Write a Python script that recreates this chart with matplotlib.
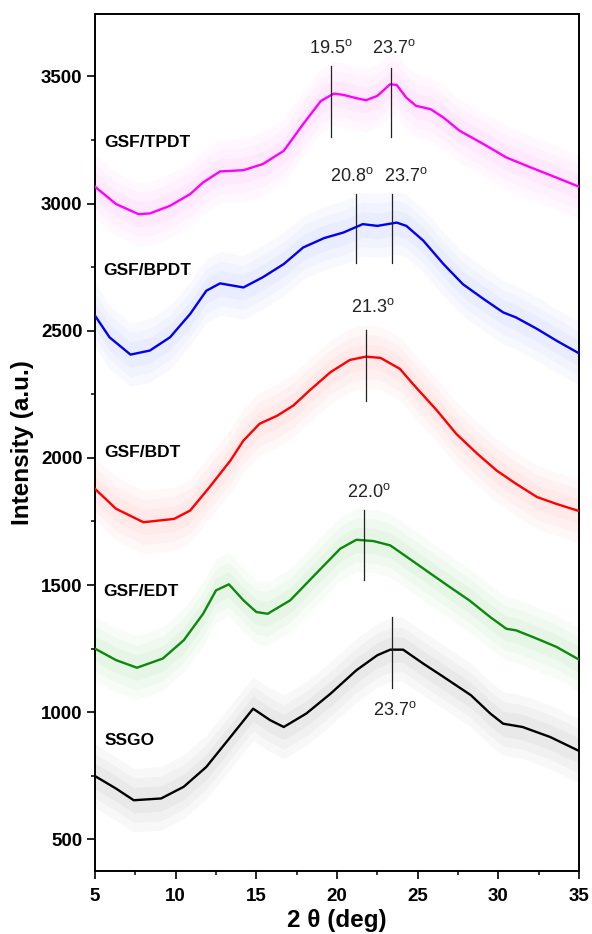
import matplotlib
matplotlib.use("Agg")
import matplotlib.pyplot as plt

plt.rcParams['font.family'] = ['Liberation Sans', 'DejaVu Sans']
plt.rcParams['mathtext.fontset'] = 'custom'
plt.rcParams['mathtext.rm'] = 'Liberation Sans'

# smoothed XRD traces (2theta in deg, intensity a.u.)
ssgo_x = [5, 6.3, 7.4, 9.1, 10.5, 11.9, 13.4, 14.8, 15.85, 16.7, 18.1, 19.6, 21.2, 22.5,
          23.3, 24.1, 25.35, 26.6, 28.3, 29.5, 30.3, 31.5, 33.2, 35]
ssgo_y = [749, 700, 654, 661, 707, 785, 903, 1014, 969, 942, 995, 1073, 1165, 1224,
          1246, 1246, 1191, 1139, 1067, 995, 955, 942, 903, 848]

edt_x = [5, 6.3, 7.6, 9.2, 10.5, 11.7, 12.5, 13.3, 14.2, 15.0, 15.7, 17.1, 18.7, 20.2,
         21.2, 22.25, 23.3, 24.5, 25.8, 27.0, 28.2, 29.5, 30.5, 31.1, 32.4, 33.6, 35]
edt_y = [1250, 1205, 1175, 1211, 1283, 1387, 1479, 1503, 1440, 1394, 1387, 1440, 1545, 1643,
         1678, 1673, 1656, 1603, 1545, 1492, 1440, 1374, 1328, 1322, 1289, 1257, 1207]

bdt_x = [5, 6.3, 8.0, 9.9, 10.9, 12.1, 13.4, 14.2, 15.2, 16.3, 17.3, 18.3, 19.6, 20.8,
         21.8, 22.7, 23.9, 24.7, 26.2, 27.4, 28.7, 29.9, 31.1, 32.4, 33.6, 35]
bdt_y = [1878, 1800, 1747, 1760, 1793, 1885, 1990, 2068, 2134, 2166, 2206, 2265, 2337, 2385,
         2398, 2393, 2350, 2291, 2186, 2094, 2016, 1950, 1898, 1846, 1819, 1791]

bpdt_x = [5, 5.9, 7.2, 8.4, 9.65, 10.9, 11.9, 12.75, 14.2, 15.4, 16.7, 17.9, 19.2, 20.4,
          21.6, 22.5, 23.7, 24.3, 25.35, 26.6, 27.8, 29.1, 30.3, 31.1, 32.4, 33.6, 35]
bpdt_y = [2559, 2474, 2406, 2422, 2474, 2566, 2657, 2686, 2670, 2710, 2762, 2827, 2864, 2886,
          2919, 2912, 2925, 2912, 2854, 2762, 2683, 2624, 2572, 2552, 2507, 2461, 2411]

tpdt_x = [5, 6.3, 7.7, 8.4, 9.65, 10.9, 11.7, 12.75, 14.2, 15.4, 16.7, 17.9, 19.0, 19.8,
          20.4, 21.2, 21.8, 22.5, 23.3, 23.7, 24.3, 24.9, 25.8, 26.6, 27.6, 29.1, 30.5,
          32.0, 33.6, 35]
tpdt_y = [3066, 2998, 2958, 2961, 2991, 3037, 3083, 3126, 3131, 3155, 3207, 3312, 3403, 3432,
          3427, 3414, 3406, 3423, 3469, 3466, 3416, 3384, 3371, 3338, 3286, 3233, 3181,
          3142, 3102, 3066]

sample_names = ["SSGO", "GSF/EDT", "GSF/BDT", "GSF/BPDT", "GSF/TPDT"]
name_pos = [(5.6, 890), (5.5, 1473), (5.6, 2022), (5.5, 2736), (5.6, 3240)]

# peak marks: x, y bottom, y top
peak_marks = [(23.43, 1097, 1374), (21.7, 1518, 1797), (21.8, 2225, 2503),
              (21.2, 2768, 3039), (23.4, 2768, 3039), (19.6, 3262, 3541), (23.35, 3262, 3534)]
peak_labels = ["23.7", "22.0", "21.3", "20.8", "23.7", "19.5", "23.7"]
peak_label_pos = [(23.6, 1008), (21.95, 1864), (22.2, 2592), (20.95, 3109),
                  (24.25, 3109), (19.65, 3612), (23.55, 3612)]

series = [(ssgo_x, ssgo_y, 'black', '#a0a0a0'),
          (edt_x, edt_y, '#0a8a0a', '#9ad69a'),
          (bdt_x, bdt_y, '#ff0000', '#ffa0a0'),
          (bpdt_x, bpdt_y, '#0000f0', '#a5adff'),
          (tpdt_x, tpdt_y, '#ff00ff', '#ffa0f8')]
cloud = 125

fig = plt.figure(figsize=(5.92, 9.34), dpi=100)
ax = fig.add_axes([0.1605, 0.0675, 0.8175, 0.9175])

for xs, ys, c, cc in series:
    for w, a in [(cloud, 0.07), (cloud * 0.7, 0.08), (cloud * 0.4, 0.09)]:
        ax.fill_between(xs, [v - w for v in ys], [v + w for v in ys], color=cc, alpha=a, lw=0)
    ax.plot(xs, ys, color=c, lw=1.7, zorder=3, solid_joinstyle='round')

for (x, y0, y1) in peak_marks:
    ax.plot([x, x], [y0, y1], color='#222222', lw=0.9, zorder=4)

for txt, (x, y) in zip(peak_labels, peak_label_pos):
    ax.text(x, y, txt + r"$^{\mathrm{o}}$", fontsize=13, ha='center', va='center', color='#222222')

for name, (x, y) in zip(sample_names, name_pos):
    ax.text(x, y, name, fontsize=12.5, fontweight='bold', ha='left', va='center')

ax.set_xlim(5, 35)
ax.set_ylim(376, 3745)
ax.set_xticks([5, 10, 15, 20, 25, 30, 35])
ax.set_xticks([7.5, 12.5, 17.5, 22.5, 27.5, 32.5], minor=True)
ax.set_yticks([500, 1000, 1500, 2000, 2500, 3000, 3500])
ax.set_yticks([750, 1250, 1750, 2250, 2750, 3250], minor=True)
ax.tick_params(which='major', direction='out', length=5.5, width=1.2, labelsize=13.5)
ax.tick_params(which='minor', direction='out', length=3, width=1.1)
ax.tick_params(axis='x', which='major', pad=7)
for lab in ax.get_xticklabels() + ax.get_yticklabels():
    lab.set_fontweight('bold')
for sp in ax.spines.values():
    sp.set_linewidth(1.4)

ax.set_xlabel("2 θ (deg)", fontsize=17.5, fontweight='bold', labelpad=3)
ax.set_ylabel("Intensity (a.u.)", fontsize=17.5, fontweight='bold', labelpad=5)

fig.savefig("out.png", dpi=100)
